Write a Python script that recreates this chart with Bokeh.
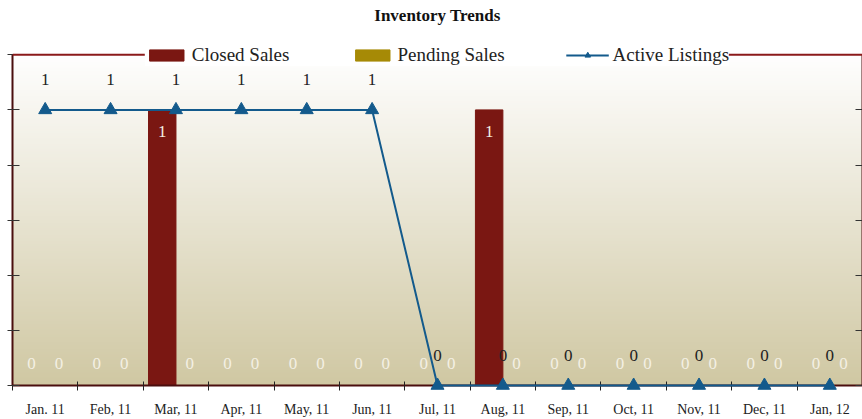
import numpy as np
from bokeh.plotting import figure
from bokeh.models import (Range1d, FixedTicker, LinearAxis, CustomJSTickFormatter, Span)
from bokeh.core.properties import value
from bokeh.embed import file_html
from bokeh.resources import INLINE

months = ["Jan. 11", "Feb, 11", "Mar, 11", "Apr, 11", "May, 11", "Jun, 11", "Jul, 11",
          "Aug, 11", "Sep, 11", "Oct, 11", "Nov, 11", "Dec, 11", "Jan, 12"]
closed_sales = [0, 0, 1, 0, 0, 0, 0, 1, 0, 0, 0, 0, 0]
pending_sales = [0, 0, 0, 0, 0, 0, 0, 0, 0, 0, 0, 0, 0]
active_listings = [1, 1, 1, 1, 1, 1, 0, 0, 0, 0, 0, 0, 0]
y_ticks = [0, 0.2, 0.4, 0.6, 0.8, 1.0, 1.2]

FONT = "Liberation Serif"
C_CLOSED = "#7a1712"
C_PENDING = "#a68a06"
C_ACTIVE = "#135a8c"
C_AXIS = "#4a0e0e"
C_TOP = "#8b1a1a"

n = len(months)
centers = np.arange(n) + 0.5
ymax = y_ticks[-1]
head = 0.099  # room above the top line for the legend (in y units)

p = figure(width=862, height=419, output_backend="svg", toolbar_location=None,
           x_range=Range1d(0, n), y_range=Range1d(0, ymax + head),
           min_border_left=12, min_border_right=0, min_border_top=26, min_border_bottom=0)
p.background_fill_color = "white"
p.border_fill_color = "white"
p.outline_line_color = None
p.grid.visible = False

p.title.text = "Inventory Trends"
p.title.align = "center"
p.title.text_font = FONT
p.title.text_font_size = "17px"
p.title.text_font_style = "bold"
p.title.text_color = "#111111"
p.title.standoff = 6

# gradient background (decoration)
H = 200
top = np.array([255, 255, 255], dtype=float)
bot = np.array([208, 200, 163], dtype=float)
t = np.linspace(0, 1, H)[:, None]
cols = bot * (1 - t) + top * t
img = np.zeros((H, 1), dtype=np.uint32)
view = img.view(dtype=np.uint8).reshape((H, 1, 4))
view[:, 0, 0] = cols[:, 0]
view[:, 0, 1] = cols[:, 1]
view[:, 0, 2] = cols[:, 2]
view[:, 0, 3] = 255
p.image_rgba(image=[img], x=0, y=0, dw=n, dh=ymax, level="image")

bw = 0.42
off = 0.21
p.vbar(x=centers - off, top=closed_sales, width=bw, color=C_CLOSED, legend_label="Closed Sales")
p.vbar(x=centers + off, top=pending_sales, width=bw, color=C_PENDING, legend_label="Pending Sales")
p.line(centers, active_listings, line_color=C_ACTIVE, line_width=2, level="overlay",
       legend_label="Active Listings")
p.scatter(centers, active_listings, marker="triangle", size=13,
          fill_color=C_ACTIVE, line_color=C_ACTIVE, level="overlay", legend_label="Active Listings")

# labels
def bar_label_y(vals):
    return [v - 0.08 if v > 0 else v + 0.08 for v in vals]

lab_kw = dict(text_font=value(FONT), text_font_size="17px", text_align="center",
              text_baseline="middle")
p.text(x=centers - off, y=bar_label_y(closed_sales), text=[str(v) for v in closed_sales],
       text_color="#f4f0e4", **lab_kw)
p.text(x=centers + off, y=bar_label_y(pending_sales), text=[str(v) for v in pending_sales],
       text_color="#f4f0e4", **lab_kw)
p.text(x=centers, y=[v + 0.11 for v in active_listings], text=[str(v) for v in active_listings],
       text_color="#222222", level="overlay", **lab_kw)

# top border line of the plot box
p.add_layout(Span(location=ymax, dimension="width", line_color=C_TOP, line_width=2))

# axes
p.yaxis.ticker = FixedTicker(ticks=y_ticks)
p.yaxis.formatter = CustomJSTickFormatter(code="return '';")
p.yaxis.bounds = (0, ymax)
p.yaxis.major_label_standoff = 0
p.yaxis.axis_label_standoff = 0
p.yaxis.axis_line_color = C_AXIS
p.yaxis.axis_line_width = 2
p.yaxis.major_tick_out = 5
p.yaxis.major_tick_in = 7
p.yaxis.major_tick_line_color = "#333333"
p.yaxis.minor_tick_line_color = None

ra = LinearAxis(ticker=FixedTicker(ticks=y_ticks), formatter=CustomJSTickFormatter(code="return '';"),
                bounds=(0, ymax), axis_label_standoff=0,
                major_label_standoff=0, axis_line_color=C_AXIS, axis_line_width=2,
                major_tick_out=0, major_tick_in=7, major_tick_line_color="#333333",
                minor_tick_line_color=None)
p.add_layout(ra, "right")

p.xaxis.ticker = FixedTicker(ticks=list(centers), minor_ticks=list(range(n + 1)))
p.xaxis.formatter = CustomJSTickFormatter(args=dict(labels=months),
                                          code="return labels[Math.floor(tick)] || '';")
p.xaxis.major_tick_line_color = None
p.xaxis.major_tick_out = 0
p.xaxis.major_tick_in = 0
p.xaxis.minor_tick_out = 5
p.xaxis.minor_tick_in = 4
p.xaxis.minor_tick_line_color = "#222222"
p.xaxis.axis_line_color = C_AXIS
p.xaxis.axis_line_width = 2
p.xaxis.major_label_text_font = FONT
p.xaxis.major_label_text_font_size = "14px"
p.xaxis.major_label_text_color = "#222222"
p.xaxis.major_label_standoff = 11
p.xaxis.axis_label_standoff = 0

lg = p.legend[0]
lg.orientation = "horizontal"
lg.location = "top_center"
lg.margin = 17
lg.padding = 8
lg.spacing = 61
lg.label_standoff = 4
lg.glyph_width = 43
lg.glyph_height = 14
lg.background_fill_color = "white"
lg.background_fill_alpha = 1.0
lg.border_line_color = None
lg.label_text_font = FONT
lg.label_text_font_size = "19px"
lg.label_text_color = "#222222"

open("out.html", "w").write(file_html(p, INLINE))
